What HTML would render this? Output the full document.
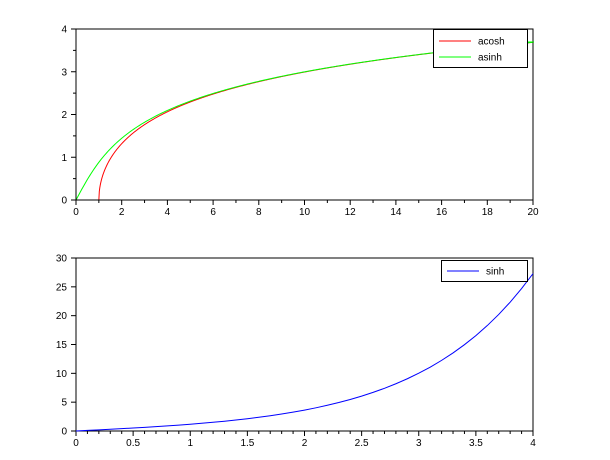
<!DOCTYPE html>
<html><head><style>
html,body{margin:0;padding:0;background:#fff;}
svg{display:block;font-family:"Liberation Sans",sans-serif;font-size:10px;}
</style></head><body>
<svg id="s" width="610" height="460" xmlns="http://www.w3.org/2000/svg">
<rect width="610" height="460" fill="#fff"/>
<g id="g1"></g>
<!-- top axes -->
<rect x="76" y="29" width="457" height="171" fill="none" stroke="#000" stroke-width="1"/>
<g text-anchor="end" fill="#000">
<text x="67" y="203.5">0</text><text x="67" y="160.75">1</text><text x="67" y="118">2</text><text x="67" y="75.25">3</text><text x="67" y="32.5">4</text>
</g>
<g text-anchor="middle" fill="#000">
<text x="76" y="215">0</text><text x="121.7" y="215">2</text><text x="167.4" y="215">4</text><text x="213.1" y="215">6</text><text x="258.8" y="215">8</text><text x="304.5" y="215">10</text><text x="350.2" y="215">12</text><text x="395.9" y="215">14</text><text x="441.6" y="215">16</text><text x="487.3" y="215">18</text><text x="533" y="215">20</text>
</g>
<rect x="433.5" y="29.5" width="94" height="38" fill="#fff" stroke="#000"/>
<line x1="439" y1="41" x2="471" y2="41" stroke="#f00"/>
<line x1="439" y1="57" x2="471" y2="57" stroke="#0f0"/>
<text x="478" y="44.5">acosh</text><text x="478" y="60.5">asinh</text>
<line x1="528" y1="42" x2="534" y2="42" stroke="#0f0"/>
<!-- bottom axes -->
<rect x="76" y="258" width="457" height="173" fill="none" stroke="#000" stroke-width="1"/>
<g text-anchor="end" fill="#000">
<text x="67" y="434.5">0</text><text x="67" y="405.7">5</text><text x="67" y="376.8">10</text><text x="67" y="348">15</text><text x="67" y="319.2">20</text><text x="67" y="290.3">25</text><text x="67" y="261.5">30</text>
</g>
<g text-anchor="middle" fill="#000">
<text x="76" y="446">0</text><text x="133.1" y="446">0.5</text><text x="190.3" y="446">1</text><text x="247.4" y="446">1.5</text><text x="304.5" y="446">2</text><text x="361.6" y="446">2.5</text><text x="418.8" y="446">3</text><text x="475.9" y="446">3.5</text><text x="533" y="446">4</text>
</g>
<g id="g2"></g>
<rect x="441.5" y="260.5" width="86" height="21" fill="#fff" stroke="#000"/>
<line x1="447" y1="271" x2="479" y2="271" stroke="#00f"/>
<text x="486" y="274.5">sinh</text>
</svg>
<script>
var ns="http://www.w3.org/2000/svg";
function add(g,tag,a){var e=document.createElementNS(ns,tag);for(var k in a)e.setAttribute(k,a[k]);document.getElementById(g).appendChild(e);}
// top ticks
for(var i=0;i<=20;i++){var x=76+i*457/20;add("g1","line",{x1:x,y1:200,x2:x,y2:i%2?203:205,stroke:"#000"});}
for(var i=0;i<=8;i++){var y=200-i*171/8;add("g1","line",{x1:76,y1:y,x2:i%2?73:71,y2:y,stroke:"#000"});}
function X1(x){return 76+x*457/20;}function Y1(y){return 200-y*171/4;}
var p="",q="";
for(var x=1;x<=20.0001;x+=0.02){p+=(p?"L":"M")+X1(x).toFixed(2)+","+Y1(Math.acosh(x)).toFixed(2);}
for(var x=0;x<=20.0001;x+=0.05){q+=(q?"L":"M")+X1(x).toFixed(2)+","+Y1(Math.asinh(x)).toFixed(2);}
add("g1","path",{d:p,fill:"none",stroke:"#f00","stroke-width":1});
add("g1","path",{d:q,fill:"none",stroke:"#0f0","stroke-width":1});
// bottom ticks
for(var i=0;i<=40;i++){var x=76+i*457/40;add("g2","line",{x1:x,y1:431,x2:x,y2:i%5?434:436,stroke:"#000"});}
for(var i=0;i<=6;i++){var y=431-i*173/6;add("g2","line",{x1:76,y1:y,x2:71,y2:y,stroke:"#000"});}
var r="";
for(var x=0;x<=4.0001;x+=0.1){r+=(r?"L":"M")+(76+x*457/4).toFixed(2)+","+(431-Math.sinh(x)*173/30).toFixed(2);}
add("g2","path",{d:r,fill:"none",stroke:"#00f","stroke-width":1});
</script>
</body></html>
